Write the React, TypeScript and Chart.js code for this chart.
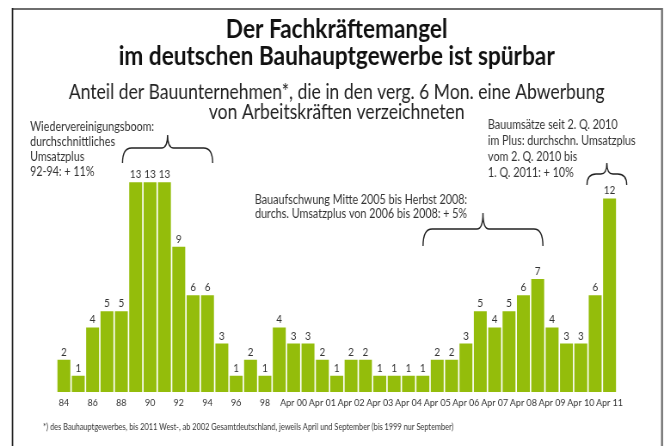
import React, { useEffect, useRef } from "react";
import { Chart, registerables } from "chart.js";

Chart.register(...registerables);

// ---- data ----
const categories = [
  "1984", "1985", "1986", "1987", "1988", "1989", "1990", "1991", "1992", "1993",
  "1994", "1995", "1996", "1997", "1998", "1999",
  "Apr 2000", "Sep 2000", "Apr 2001", "Sep 2001", "Apr 2002", "Sep 2002",
  "Apr 2003", "Sep 2003", "Apr 2004", "Sep 2004", "Apr 2005", "Sep 2005",
  "Apr 2006", "Sep 2006", "Apr 2007", "Sep 2007", "Apr 2008", "Sep 2008",
  "Apr 2009", "Sep 2009", "Apr 2010", "Sep 2010", "Apr 2011",
];
const values = [
  2, 1, 4, 5, 5, 13, 13, 13, 9, 6, 6, 3, 1, 2, 1, 4,
  3, 3, 2, 1, 2, 2, 1, 1, 1, 1, 2, 2, 3, 5, 4, 5, 6, 7, 4, 3, 3, 6, 12,
];
const tickLabels = [
  "84", "", "86", "", "88", "", "90", "", "92", "", "94", "", "96", "", "98", "",
  "Apr 00", "", "Apr 01", "", "Apr 02", "", "Apr 03", "", "Apr 04", "", "Apr 05", "",
  "Apr 06", "", "Apr 07", "", "Apr 08", "", "Apr 09", "", "Apr 10", "", "Apr 11",
];
const titleLines = ["Der Fachkräftemangel", "im deutschen Bauhauptgewerbe ist spürbar"];
const subtitleLines = [
  "Anteil der Bauunternehmen*, die in den verg. 6 Mon. eine Abwerbung",
  "von Arbeitskräften verzeichneten",
];
const noteLeft = ["Wiedervereinigungsboom:", "durchschnittliches", "Umsatzplus", "92-94: + 11%"];
const noteMiddle = ["Bauaufschwung Mitte 2005 bis Herbst 2008:", "durchs. Umsatzplus von 2006 bis 2008: + 5%"];
const noteRight = ["Bauumsätze seit 2. Q. 2010", "im Plus: durchschn. Umsatzplus", "vom 2. Q. 2010 bis", "1. Q. 2011: + 10%"];
const footnote =
  "*) des Bauhauptgewerbes, bis 2011 West-, ab 2002 Gesamtdeutschland, jeweils April und September (bis 1999 nur September)";

// ---- style ----
// The canvas is drawn wider and shown condensed, to imitate the narrow type of the original.
const VIEW_W = 664;
const VIEW_H = 446;
const LOGICAL_W = 772;
const S = VIEW_W / LOGICAL_W;
const L = (x: number) => x / S;

const FONT = "Lato, 'Liberation Sans', sans-serif";
const BAR = "#94BD0B";
const TEXT = "#333333";

function drawBrace(ctx: CanvasRenderingContext2D, x1: number, x2: number, tipY: number, lineY: number, endY: number) {
  const xm = (x1 + x2) / 2;
  const r = Math.min(L(9), (x2 - x1) / 4);
  const rt = L(6);
  ctx.beginPath();
  ctx.moveTo(x1, endY);
  ctx.quadraticCurveTo(x1, lineY, x1 + r, lineY);
  ctx.lineTo(xm - rt, lineY);
  ctx.quadraticCurveTo(xm, lineY, xm, tipY);
  ctx.quadraticCurveTo(xm, lineY, xm + rt, lineY);
  ctx.lineTo(x2 - r, lineY);
  ctx.quadraticCurveTo(x2, lineY, x2, endY);
  ctx.stroke();
}

const decorPlugin = {
  id: "decor",
  afterDraw(chart: any) {
    const ctx: CanvasRenderingContext2D = chart.ctx;
    const xs = chart.scales.x;
    const W = chart.width;
    const H = chart.height;
    ctx.save();

    // frame
    ctx.lineWidth = 2;
    ctx.strokeStyle = "#6e6e6e";
    ctx.beginPath();
    ctx.moveTo(L(12), 9);
    ctx.lineTo(W - L(2), 9);
    ctx.stroke();
    ctx.lineWidth = L(2);
    ctx.beginPath();
    ctx.moveTo(W - L(2), 8);
    ctx.lineTo(W - L(2), H);
    ctx.stroke();
    ctx.strokeStyle = "#222";
    ctx.lineWidth = L(1.5);
    ctx.beginPath();
    ctx.moveTo(L(12.5), 8);
    ctx.lineTo(L(12.5), H);
    ctx.stroke();

    // value labels
    const meta = chart.getDatasetMeta(0);
    ctx.fillStyle = TEXT;
    ctx.font = `11.5px ${FONT}`;
    ctx.textAlign = "center";
    ctx.textBaseline = "alphabetic";
    meta.data.forEach((bar: any, i: number) => {
      ctx.fillText(String(values[i]), bar.x, bar.y - 4);
    });

    // annotations
    const step = (xs.right - xs.left) / categories.length;
    const leftEdge = (i: number) => xs.getPixelForValue(i) - step / 2;
    const rightEdge = (i: number) => xs.getPixelForValue(i) + step / 2;

    ctx.font = `12.5px ${FONT}`;
    ctx.textBaseline = "middle";
    ctx.textAlign = "left";
    noteLeft.forEach((t, k) => ctx.fillText(t, L(30), 127 + k * 15));
    ctx.textAlign = "center";
    noteMiddle.forEach((t, k) => ctx.fillText(t, L(361), 200 + k * 14));
    ctx.textAlign = "left";
    noteRight.forEach((t, k) => ctx.fillText(t, L(488), 125 + k * 16));

    ctx.strokeStyle = "#222";
    ctx.lineWidth = 1.4;
    drawBrace(ctx, leftEdge(5) - L(6), rightEdge(10) - L(2), 135, 148, 163);
    drawBrace(ctx, leftEdge(26) - L(7), rightEdge(33) - L(2), 213, 229, 246);
    drawBrace(ctx, leftEdge(37) - L(1), rightEdge(38) + L(10), 163, 174, 185);

    // footnote
    ctx.font = `8.6px ${FONT}`;
    ctx.textAlign = "left";
    ctx.textBaseline = "middle";
    ctx.fillStyle = TEXT;
    ctx.fillText(footnote, L(43), 427);

    ctx.restore();
  },
};

export default function App() {
  const ref = useRef<HTMLCanvasElement | null>(null);
  useEffect(() => {
    if (!ref.current) return;
    const chart = new Chart(ref.current, {
      type: "bar",
      data: {
        labels: categories,
        datasets: [
          {
            data: values,
            backgroundColor: BAR,
            borderWidth: 0,
            barPercentage: 0.9,
            categoryPercentage: 1.0,
          },
        ],
      },
      options: {
        responsive: false,
        animation: false,
        devicePixelRatio: 1,
        layout: { padding: { left: L(56.7), right: L(47.3), top: 0, bottom: 33.6 } },
        plugins: {
          legend: { display: false },
          tooltip: { enabled: false },
          title: {
            display: true,
            text: titleLines,
            color: "#111",
            font: { family: FONT, size: 26.3, weight: "bold", lineHeight: 1.038 },
            padding: { top: 15.5, bottom: 4 },
          },
          subtitle: {
            display: true,
            text: subtitleLines,
            color: "#222",
            font: { family: FONT, size: 20.4, weight: "normal", lineHeight: 0.98 },
            padding: { top: 8.3, bottom: 43.8 },
          },
        },
        scales: {
          x: {
            grid: { display: false, drawTicks: false },
            border: { display: false },
            ticks: {
              autoSkip: false,
              maxRotation: 0,
              minRotation: 0,
              padding: 4,
              color: TEXT,
              font: { family: FONT, size: 10.4 },
              callback: (_v: any, i: number) => tickLabels[i],
            },
          },
          y: { display: false, min: 0, max: 14 },
        },
      },
      plugins: [decorPlugin],
    });
    return () => chart.destroy();
  }, []);
  return (
    <div style={{ position: "fixed", left: 0, top: 0, width: VIEW_W, height: VIEW_H, background: "#fff" }}>
      <canvas
        ref={ref}
        width={LOGICAL_W}
        height={VIEW_H}
        style={{ display: "block", width: `${VIEW_W}px`, height: `${VIEW_H}px` }}
      />
    </div>
  );
}
